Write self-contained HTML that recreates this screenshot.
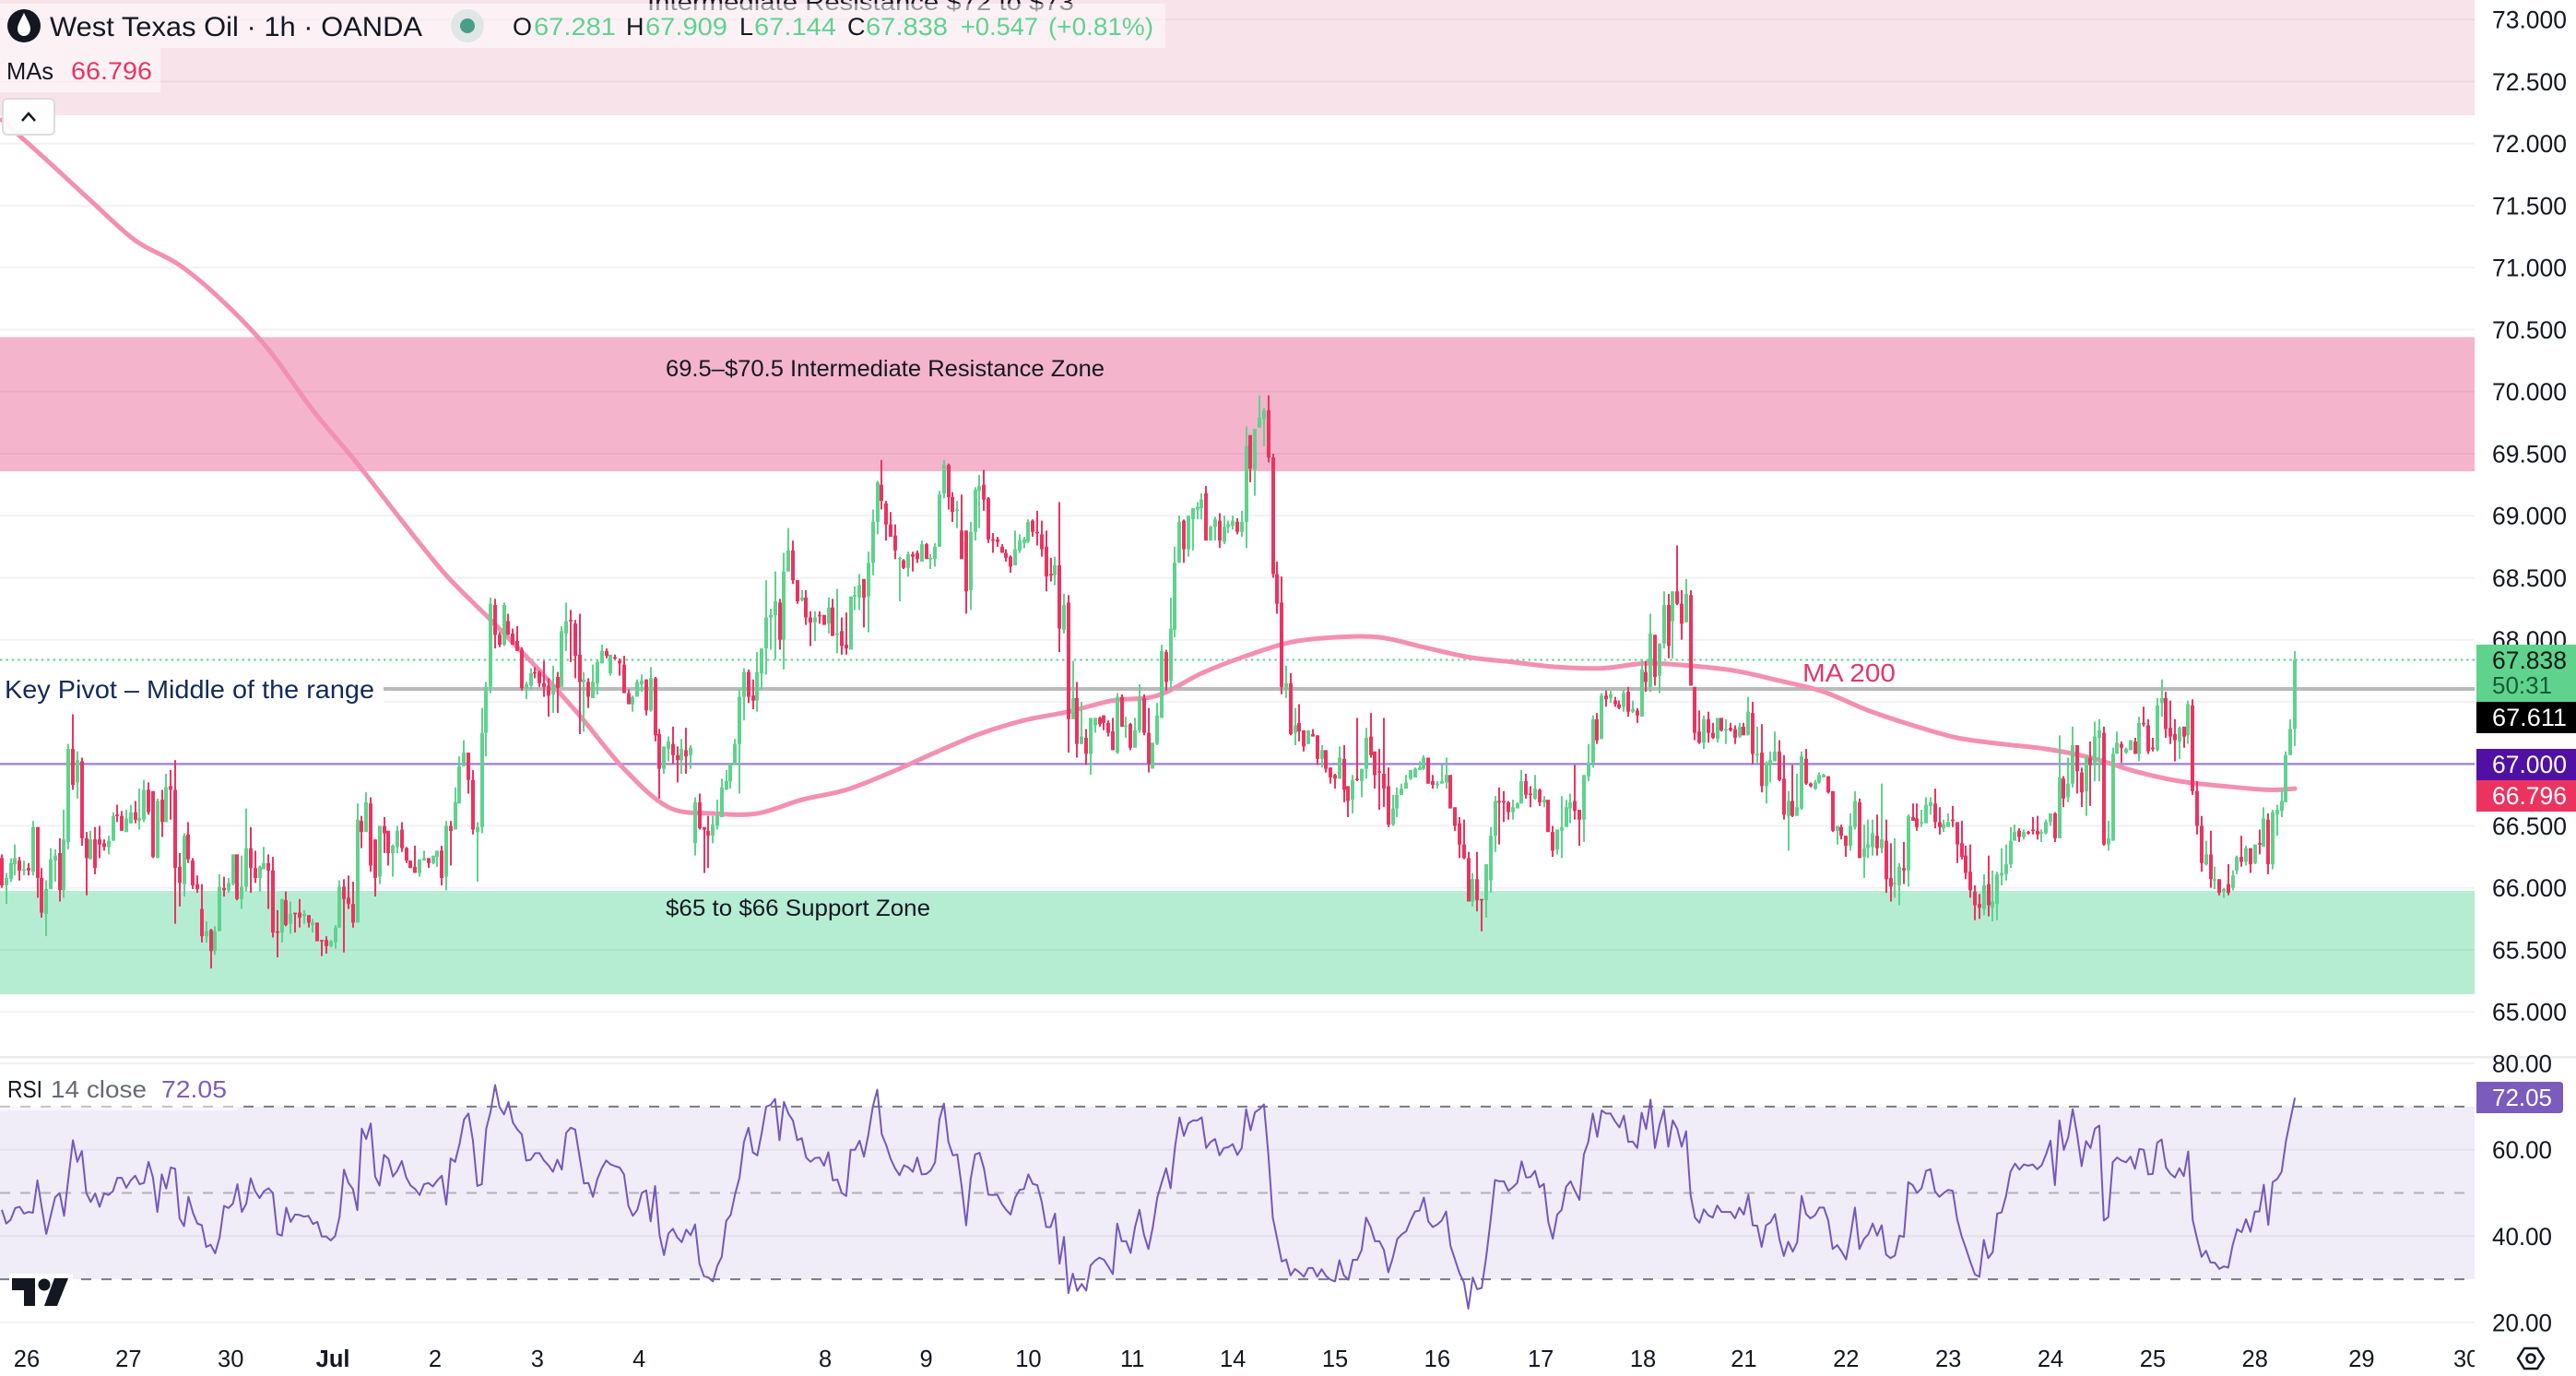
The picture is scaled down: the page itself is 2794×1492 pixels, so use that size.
<!DOCTYPE html>
<html lang="en">
<head>
<meta charset="utf-8">
<title>West Texas Oil 1h chart</title>
<style>
html,body{margin:0;padding:0;background:#fff;width:2794px;height:1492px;overflow:hidden}
svg{display:block}
text{font-family:"Liberation Sans",sans-serif;fill:#131722}
</style>
</head>
<body>
<svg id="chart" xmlns="http://www.w3.org/2000/svg" width="2794" height="1492" viewBox="0 0 2794 1492">
<defs>
<clipPath id="pane-clip"><rect x="0" y="0" width="2684" height="1492"/></clipPath>
<clipPath id="price-clip"><rect x="0" y="0" width="2684" height="1146"/></clipPath>
</defs>
<rect x="0" y="0" width="2794" height="1492" fill="#ffffff"/>
<g id="price-grid"></g>
<rect x="0" y="0" width="2684" height="125" fill="rgba(206,30,99,.125)"/>
<rect x="0" y="365.5" width="2684" height="145.5" fill="rgba(222,30,99,.335)"/>
<rect x="0" y="966" width="2684" height="112" fill="rgba(31,200,120,.33)"/>
<g id="levels" clip-path="url(#pane-clip)"></g>
<g id="ma-layer" clip-path="url(#price-clip)"></g>
<g id="candles" clip-path="url(#price-clip)"></g>

<text x="702" y="11" font-size="25" textLength="463" lengthAdjust="spacingAndGlyphs">Intermediate Resistance $72 to $73</text>
<text x="722" y="408" font-size="25" textLength="476" lengthAdjust="spacingAndGlyphs">69.5–$70.5 Intermediate Resistance Zone</text>
<text x="722" y="993" font-size="25" textLength="287" lengthAdjust="spacingAndGlyphs">$65 to $66 Support Zone</text>
<rect x="0" y="728" width="416" height="38" fill="#ffffff"/>
<text x="5" y="757" font-size="28" textLength="401" lengthAdjust="spacingAndGlyphs" style="fill:#132a5a">Key Pivot – Middle of the range</text>
<text x="1955" y="739" font-size="28" textLength="101" lengthAdjust="spacingAndGlyphs" style="fill:#e0386c">MA 200</text>

<rect x="0" y="4" width="1264" height="48" fill="rgba(255,255,255,.55)"/>
<rect x="0" y="52" width="174" height="48" fill="rgba(255,255,255,.55)"/>
<circle cx="26" cy="28" r="18" fill="#131722"/>
<path d="M26 14 C22 22 19 27 19 31 C19 36 22 39 26 39 C30 39 33 36 33 31 C33 27 30 22 26 14 Z" fill="#ffffff"/>
<text x="54" y="39" font-size="30" textLength="404" lengthAdjust="spacingAndGlyphs">West Texas Oil · 1h · OANDA</text>
<ellipse cx="507" cy="28" rx="18" ry="18" fill="#dfe6e6"/>
<ellipse cx="507" cy="28" rx="8" ry="8" fill="#4a9d88"/>
<g font-size="27">
<text x="556" y="38" font-size="27">O</text>
<text x="579" y="38" font-size="27" textLength="89" lengthAdjust="spacingAndGlyphs" style="fill:#5fd38d">67.281</text>
<text x="679" y="38" font-size="27">H</text>
<text x="700" y="38" font-size="27" textLength="89" lengthAdjust="spacingAndGlyphs" style="fill:#5fd38d">67.909</text>
<text x="802" y="38" font-size="27">L</text>
<text x="818" y="38" font-size="27" textLength="89" lengthAdjust="spacingAndGlyphs" style="fill:#5fd38d">67.144</text>
<text x="919" y="38" font-size="27">C</text>
<text x="939" y="38" font-size="27" textLength="89" lengthAdjust="spacingAndGlyphs" style="fill:#5fd38d">67.838</text>
<text x="1042" y="38" font-size="27" textLength="84" lengthAdjust="spacingAndGlyphs" style="fill:#5fd38d">+0.547</text>
<text x="1137" y="38" font-size="27" textLength="114" lengthAdjust="spacingAndGlyphs" style="fill:#5fd38d">(+0.81%)</text>
</g>
<text x="7" y="86" font-size="26" textLength="51" lengthAdjust="spacingAndGlyphs">MAs</text>
<text x="77" y="86" font-size="27" textLength="88" lengthAdjust="spacingAndGlyphs" style="fill:#ec3360">66.796</text>
<rect x="3" y="107" width="56" height="39" rx="5" fill="rgba(255,255,255,.92)" stroke="#dcdcdc" stroke-width="2"/>
<path d="M24 131 L31 123 L38 131" fill="none" stroke="#131722" stroke-width="2.5"/>

<rect x="0" y="1145" width="2794" height="2.5" fill="#ebebeb"/>
<g id="rsi-pane" clip-path="url(#pane-clip)"></g>
<rect x="0" y="1156" width="258" height="48" fill="rgba(255,255,255,.55)"/>
<text x="8" y="1190" font-size="26" textLength="38" lengthAdjust="spacingAndGlyphs">RSI</text>
<text x="55" y="1190" font-size="26" textLength="104" lengthAdjust="spacingAndGlyphs" style="fill:#666a75">14 close</text>
<text x="175" y="1190" font-size="26" textLength="71" lengthAdjust="spacingAndGlyphs" style="fill:#7e5bc0">72.05</text>
<rect x="10" y="1381" width="69" height="38" fill="#ffffff"/>
<g fill="#131722">
<path d="M13 1386 H38 V1416 H26 V1399 H13 Z"/>
<circle cx="48" cy="1393" r="6.5"/>
<path d="M59 1386 H74 L62 1416 H48 Z"/>
</g>

<g id="price-axis"></g>
<g>
<rect x="2686" y="699" width="108" height="62" fill="#5fd38d"/>
<text x="2703" y="725" font-size="26.5" textLength="81" lengthAdjust="spacingAndGlyphs" style="fill:#0b1a12">67.838</text>
<text x="2703" y="752" font-size="26" textLength="65" lengthAdjust="spacingAndGlyphs" style="fill:#165a36">50:31</text>
</g>
<g>
<rect x="2686" y="761" width="108" height="34" fill="#000000"/>
<text x="2703" y="787" font-size="26.5" textLength="81" lengthAdjust="spacingAndGlyphs" style="fill:#ffffff">67.611</text>
</g>
<g>
<rect x="2686" y="812" width="108" height="34" fill="#4f10a3"/>
<text x="2703" y="838" font-size="26.5" textLength="81" lengthAdjust="spacingAndGlyphs" style="fill:#ffffff">67.000</text>
</g>
<g>
<rect x="2686" y="846" width="108" height="34" fill="#ec3360"/>
<text x="2703" y="872" font-size="26.5" textLength="81" lengthAdjust="spacingAndGlyphs" style="fill:#ffffff">66.796</text>
</g>
<g id="rsi-axis"></g>
<g>
<path d="M2686 1173 H2776 Q2780 1173 2780 1177 V1203 Q2780 1207 2776 1207 H2686 Z" fill="#7b5bbb"/>
<text x="2703" y="1199" font-size="26" textLength="65" lengthAdjust="spacingAndGlyphs" style="fill:#ffffff">72.05</text>
</g>
<g id="time-axis" clip-path="url(#pane-clip)"></g>
<g>
<polygon points="2731,1473 2738,1462 2752,1462 2759,1473 2752,1484 2738,1484" fill="none" stroke="#131722" stroke-width="2.5"/>
<circle cx="2745" cy="1473" r="4.5" fill="none" stroke="#131722" stroke-width="2.5"/>
</g>
</svg>
<script>
const opens=[66.24,66.02,66.07,66.19,66.22,66.14,66.16,66.13,66.49,66.08,
65.79,65.99,66.22,66.28,65.98,66.37,67.12,66.85,67.02,66.4,
66.23,66.39,66.39,66.36,66.33,66.38,66.59,66.58,66.45,66.52,
66.61,66.54,66.55,66.79,66.78,66.24,66.71,66.53,66.82,66.79,
66.17,66.03,66.43,66.22,66.03,65.83,65.61,65.66,65.49,65.65,
66.0,65.98,66.03,66.27,65.91,66.01,66.32,66.16,66.08,66.15,
66.2,66.14,65.65,65.64,65.9,65.71,65.8,65.8,65.77,65.78,
65.7,65.72,65.58,65.58,65.53,65.56,65.68,66.01,65.92,65.87,
65.72,66.54,66.45,66.68,66.39,66.09,66.5,66.46,66.28,66.33,
66.47,66.32,66.22,66.17,66.12,66.22,66.24,66.2,66.25,66.3,
66.09,66.5,66.47,66.68,66.98,67.09,66.87,66.45,66.49,67.25,
67.62,68.28,68.04,67.96,68.15,68.05,67.99,67.92,67.61,67.63,
67.74,67.74,67.65,67.63,67.56,67.7,67.62,68.05,68.16,68.13,
67.88,67.66,67.66,67.53,67.65,67.81,67.91,67.73,67.86,67.83,
67.8,67.57,67.48,67.54,67.64,67.68,67.43,67.69,67.24,66.96,
67.12,67.16,67.07,67.03,67.11,67.07,66.36,66.69,66.49,66.46,
66.42,66.5,66.57,66.79,66.86,66.99,67.16,67.54,67.74,67.55,
67.51,67.73,67.93,68.18,68.2,68.3,68.0,68.55,68.72,68.48,
68.32,68.34,68.18,68.14,68.2,68.2,68.13,68.26,68.04,68.07,
67.96,67.92,68.35,68.34,68.49,68.35,68.62,68.95,69.25,69.1,
68.93,68.84,68.65,68.64,68.58,68.69,68.7,68.63,68.77,68.65,
68.65,68.75,69.18,69.41,69.15,69.04,68.88,68.88,68.4,68.87,
69.2,69.25,69.14,68.81,68.81,68.75,68.7,68.67,68.6,68.72,
68.78,68.79,68.96,68.87,68.85,68.75,68.53,68.52,68.6,68.08,
68.3,67.36,67.53,67.16,67.21,67.08,67.31,67.37,67.39,67.33,
67.26,67.09,67.54,67.3,67.32,67.13,67.27,67.53,67.25,66.96,
67.16,67.37,67.9,67.67,68.08,68.62,68.96,68.73,68.97,69.05,
69.06,69.18,68.8,68.91,68.96,68.79,68.91,68.92,68.95,68.87,
68.95,69.65,69.37,69.71,69.78,69.85,69.47,68.53,68.3,67.6,
67.65,67.25,67.33,67.27,67.16,67.24,67.23,67.04,67.11,66.97,
66.91,66.88,67.04,66.82,66.71,66.88,66.86,66.96,67.22,67.1,
66.94,66.92,66.82,66.51,66.64,66.75,66.8,66.88,66.89,66.95,
66.96,67.05,66.86,66.83,66.84,66.85,66.91,66.65,66.52,66.35,
66.24,65.89,66.07,65.91,65.9,66.06,66.42,66.7,66.7,66.69,
66.61,66.64,66.68,66.86,66.76,66.72,66.79,66.69,66.71,66.45,
66.31,66.46,66.49,66.64,66.7,66.63,66.55,66.9,67.01,67.36,
67.2,67.55,67.53,67.51,67.48,67.46,67.58,67.42,67.43,67.38,
67.74,67.62,68.04,67.71,67.97,68.28,68.15,68.39,68.29,68.14,
68.36,67.62,67.26,67.17,67.36,67.25,67.2,67.37,67.27,67.29,
67.28,67.22,67.3,67.23,67.41,67.07,67.09,66.82,67.0,67.02,
67.1,66.88,66.58,66.7,66.58,66.64,67.04,66.84,66.8,66.85,
66.89,66.9,66.78,66.46,66.49,66.42,66.34,66.49,66.69,66.25,
66.32,66.33,66.42,66.32,66.38,66.08,66.03,66.02,66.16,66.14,
66.57,66.56,66.52,66.52,66.66,66.68,66.53,66.48,66.49,66.55,
66.53,66.36,66.26,66.13,65.97,65.87,65.83,66.03,65.84,65.87,
66.1,66.11,66.19,66.38,66.46,66.41,66.45,66.47,66.46,66.44,
66.44,66.53,66.6,66.4,66.88,66.73,66.84,67.15,66.93,66.78,
67.05,67.0,67.21,67.25,66.35,66.38,67.08,67.16,67.09,67.11,
67.18,67.08,67.33,67.31,67.13,67.11,67.49,67.53,67.29,67.24,
67.18,67.3,67.23,67.47,66.78,66.5,66.19,66.27,66.06,66.07,
65.97,66.03,66.0,66.14,66.25,66.21,66.32,66.2,66.36,66.33,
66.55,66.19,66.59,66.62,66.69,67.07,67.281];
const closes=[66.02,66.08,66.2,66.24,66.14,66.15,66.14,66.49,66.08,65.8,
65.99,66.23,66.26,65.98,66.39,67.12,66.83,67.03,66.4,66.24,
66.39,66.16,66.35,66.33,66.38,66.58,66.58,66.46,66.56,66.61,
66.55,66.56,66.79,66.61,66.25,66.7,66.53,66.81,66.79,66.16,
66.04,66.42,66.23,66.02,65.99,65.61,65.65,65.49,65.65,66.01,
65.98,66.04,66.27,65.91,66.01,66.32,66.16,66.08,66.17,66.2,
66.14,65.64,65.64,65.91,65.7,65.79,65.79,65.76,65.79,65.72,
65.72,65.57,65.57,65.53,65.57,65.68,66.01,65.91,65.87,65.72,
66.55,66.45,66.69,66.18,66.08,66.5,66.44,66.28,66.34,66.46,
66.32,66.22,66.16,66.12,66.23,66.24,66.2,66.26,66.3,66.08,
66.5,66.46,66.69,66.98,67.09,66.87,66.47,66.49,67.25,67.62,
68.29,68.04,67.96,68.28,68.04,67.96,67.91,67.61,67.64,67.73,
67.73,67.65,67.62,67.55,67.63,67.61,68.07,68.15,68.15,67.87,
67.66,67.68,67.54,67.66,67.82,67.91,67.87,67.88,67.85,67.81,
67.57,67.48,67.54,67.66,67.67,67.43,67.69,67.23,66.96,67.14,
67.18,67.07,67.03,67.12,67.06,67.13,66.69,66.48,66.47,66.42,
66.51,66.58,66.81,66.86,67.0,67.16,67.54,67.74,67.54,67.51,
67.74,67.93,68.18,68.2,68.31,68.0,68.55,68.72,68.48,68.31,
68.34,68.18,68.14,68.18,68.19,68.12,68.26,68.03,68.05,67.95,
67.93,68.35,68.36,68.44,68.34,68.62,68.95,69.27,69.12,68.93,
68.83,68.72,68.66,68.58,68.69,68.67,68.65,68.77,68.65,68.66,
68.75,69.17,69.41,69.15,69.03,69.05,68.65,68.39,68.87,69.21,
69.24,69.13,68.81,68.8,68.79,68.7,68.66,68.59,68.73,68.8,
68.81,68.95,68.87,68.86,68.73,68.51,68.52,68.6,68.09,68.28,
67.36,67.53,67.16,67.22,67.08,67.37,67.37,67.32,67.33,67.25,
67.11,67.54,67.3,67.31,67.13,67.27,67.52,67.25,67.0,67.17,
67.39,67.91,67.66,68.09,68.62,68.95,68.73,69.0,69.06,69.07,
69.13,68.8,68.91,68.97,68.8,68.91,68.93,68.96,68.87,68.95,
69.56,69.38,69.7,69.79,69.85,69.47,68.53,68.29,67.62,67.65,
67.24,67.31,67.26,67.14,67.27,67.22,67.04,67.11,66.96,66.89,
66.88,67.05,66.79,66.7,66.87,66.87,66.96,67.21,67.07,66.91,
66.93,66.8,66.51,66.64,66.75,66.8,66.85,66.95,66.96,66.97,
67.05,66.84,66.83,66.84,66.86,66.91,66.64,66.5,66.35,66.24,
65.89,66.07,65.9,65.9,66.19,66.42,66.7,66.69,66.69,66.61,
66.65,66.68,66.86,66.75,66.75,66.8,66.69,66.71,66.45,66.3,
66.47,66.49,66.65,66.69,66.62,66.55,66.91,67.01,67.36,67.19,
67.55,67.52,67.56,67.48,67.45,67.57,67.42,67.44,67.39,67.76,
67.66,68.05,67.7,67.97,68.28,67.95,68.39,68.29,68.13,68.37,
67.63,67.25,67.17,67.36,67.25,67.21,67.37,67.27,67.28,67.27,
67.21,67.3,67.23,67.42,67.08,67.08,66.82,67.01,67.03,67.1,
66.87,66.59,66.7,66.58,66.65,67.06,66.84,66.82,66.85,66.91,
66.91,66.77,66.46,66.5,66.42,66.34,66.5,66.7,66.24,66.32,
66.35,66.44,66.32,66.39,66.07,66.01,66.04,66.17,66.14,66.58,
66.54,66.49,66.53,66.67,66.69,66.53,66.49,66.51,66.53,66.54,
66.35,66.25,66.12,65.98,65.86,65.84,66.02,65.86,65.89,66.11,
66.12,66.19,66.38,66.45,66.41,66.45,66.44,66.46,66.43,66.45,
66.53,66.6,66.4,66.89,66.72,66.84,67.15,66.94,66.77,67.05,
66.99,67.22,67.27,66.35,66.4,67.08,67.17,67.13,67.12,67.19,
67.08,67.33,67.32,67.1,67.12,67.47,67.53,67.28,67.22,67.19,
67.29,67.22,67.48,66.78,66.5,66.2,66.27,66.07,66.07,65.96,
65.99,65.96,66.1,66.25,66.21,66.32,66.19,66.35,66.35,66.56,
66.19,66.61,66.63,66.7,67.07,67.28,67.838];
const highs=[66.27,66.12,66.24,66.35,66.25,66.22,66.2,66.54,66.49,66.16,
66.06,66.32,66.31,66.4,66.63,67.16,67.4,67.1,67.05,66.45,
66.46,66.49,66.5,66.39,66.42,66.61,66.67,66.62,66.63,66.67,
66.7,66.8,66.87,66.85,66.78,66.72,66.79,66.92,66.95,67.03,
66.28,66.44,66.53,66.24,66.1,66.03,65.73,65.67,65.69,66.11,
66.09,66.08,66.27,66.27,66.26,66.64,66.49,66.3,66.18,66.33,
66.27,66.25,65.82,65.91,65.97,65.89,65.8,65.91,65.82,65.78,
65.75,65.72,65.58,65.61,65.58,65.7,66.06,66.07,66.1,66.05,
66.68,66.58,66.77,66.73,66.39,66.5,66.57,66.46,66.35,66.5,
66.53,66.33,66.22,66.34,66.23,66.3,66.24,66.26,66.3,66.34,
66.54,66.54,66.81,67.06,67.19,67.09,66.95,66.53,67.45,67.66,
68.34,68.33,68.06,68.3,68.21,68.09,68.11,67.94,67.66,67.77,
67.78,67.75,67.83,67.69,67.79,67.74,68.11,68.3,68.24,68.16,
68.21,67.74,67.69,67.8,67.84,67.96,67.93,67.88,67.88,67.85,
67.87,67.6,67.55,67.68,67.72,67.68,67.78,67.7,67.28,67.14,
67.22,67.3,67.14,67.2,67.29,67.15,66.73,66.76,66.49,66.58,
66.58,66.71,66.88,66.95,67.0,67.2,67.6,67.77,67.76,67.68,
67.9,67.93,68.48,68.25,68.55,68.33,68.7,68.9,68.8,68.48,
68.4,68.4,68.23,68.23,68.23,68.2,68.34,68.33,68.41,68.18,
68.22,68.35,68.43,68.53,68.49,68.71,69.05,69.28,69.45,69.12,
69.03,68.93,68.67,68.65,68.71,68.71,68.72,68.8,68.78,68.69,
68.78,69.2,69.45,69.42,69.19,69.12,69.17,68.88,68.95,69.23,
69.33,69.37,69.15,68.86,68.83,68.77,68.73,68.68,68.88,68.85,
68.83,68.97,68.97,69.04,68.96,68.88,68.66,68.67,69.11,68.37,
68.36,67.83,67.66,67.5,67.28,67.37,67.37,67.38,67.39,67.35,
67.37,67.57,67.56,67.38,67.33,67.37,67.64,67.56,67.45,67.17,
67.49,67.96,67.92,68.34,68.75,69.0,68.97,69.0,69.06,69.11,
69.18,69.24,68.92,68.99,69.02,69.0,68.96,69.0,68.98,69.04,
69.72,69.65,69.7,69.97,69.87,69.97,69.5,68.63,68.51,67.79,
67.73,67.45,67.48,67.27,67.27,67.28,67.23,67.15,67.11,66.97,
66.92,67.14,67.15,66.82,66.91,67.37,66.96,67.29,67.41,67.1,
67.12,67.37,66.97,66.75,66.81,66.84,66.91,66.95,66.97,67.02,
67.07,67.05,66.91,66.86,66.99,67.05,66.91,66.65,66.57,66.55,
66.29,66.12,66.29,65.91,66.19,66.49,66.74,66.81,66.78,66.7,
66.71,66.69,66.95,66.92,66.82,66.91,66.8,66.74,66.71,66.5,
66.47,66.74,66.71,66.76,66.99,66.63,66.91,67.16,67.39,67.41,
67.57,67.59,67.59,67.54,67.51,67.6,67.62,67.51,67.45,67.84,
67.83,68.21,68.04,67.97,68.39,68.37,68.39,68.76,68.4,68.49,
68.4,67.62,67.43,67.39,67.42,67.33,67.37,67.37,67.36,67.33,
67.31,67.33,67.33,67.54,67.5,67.3,67.32,67.02,67.1,67.26,
67.19,67.07,66.78,66.99,66.92,67.1,67.12,66.85,66.87,66.93,
66.92,66.9,66.78,66.5,66.51,66.42,66.6,66.78,66.72,66.51,
66.55,66.55,66.59,66.84,66.55,66.36,66.4,66.2,66.37,66.59,
66.68,66.68,66.63,66.73,66.73,66.8,66.65,66.55,66.6,66.66,
66.53,66.54,66.34,66.35,66.02,65.95,66.11,66.26,66.14,66.13,
66.32,66.35,66.49,66.51,66.48,66.47,66.46,66.57,66.58,66.47,
66.55,66.6,66.61,67.23,66.9,67.05,67.3,67.15,66.97,67.07,
67.18,67.34,67.36,67.3,66.54,67.13,67.26,67.18,67.13,67.19,
67.21,67.38,67.46,67.36,67.21,67.53,67.68,67.58,67.51,67.36,
67.3,67.3,67.51,67.52,66.86,66.58,66.38,66.46,66.17,66.07,
66.0,66.19,66.14,66.26,66.42,66.34,66.32,66.35,66.47,66.65,
66.6,66.63,66.67,66.79,67.1,67.36,67.909];
const lows=[66.0,65.87,66.05,66.1,66.06,66.1,66.1,66.1,65.92,65.76,
65.61,65.99,66.05,65.89,65.92,66.31,66.79,66.72,66.34,65.94,
66.23,66.11,66.24,66.3,66.27,66.38,66.53,66.46,66.45,66.52,
66.52,66.47,66.53,66.59,66.24,66.24,66.41,66.53,66.55,65.71,
65.85,65.93,66.2,65.99,65.96,65.56,65.56,65.35,65.46,65.65,
65.93,65.96,66.02,65.9,65.83,65.97,65.96,66.04,65.97,66.15,
65.83,65.6,65.44,65.56,65.69,65.63,65.64,65.68,65.71,65.68,
65.64,65.57,65.45,65.47,65.52,65.51,65.68,65.48,65.83,65.68,
65.72,66.32,66.45,66.13,65.93,66.03,66.28,66.18,66.09,66.28,
66.29,66.2,66.16,66.12,66.09,66.22,66.16,66.19,66.17,66.02,
65.98,66.18,66.47,66.68,66.98,66.76,66.43,66.05,66.44,67.06,
67.57,67.93,67.94,67.95,68.04,67.96,67.91,67.59,67.52,67.6,
67.69,67.62,67.54,67.38,67.41,67.41,67.62,67.91,67.82,67.69,
67.24,67.26,67.45,67.53,67.56,67.81,67.85,67.71,67.84,67.71,
67.57,67.48,67.42,67.54,67.58,67.39,67.42,67.18,66.72,66.92,
67.02,67.0,66.85,66.92,66.92,66.96,66.26,66.47,66.12,66.16,
66.36,66.47,66.57,66.79,66.8,66.99,66.76,67.35,67.49,67.44,
67.42,67.6,67.72,67.92,67.84,67.92,67.76,68.55,68.45,68.29,
68.31,68.12,67.95,67.99,68.13,68.12,68.05,68.03,67.89,67.88,
67.88,67.92,68.24,68.24,68.1,68.06,68.52,68.85,69.05,68.8,
68.83,68.65,68.31,68.57,68.51,68.55,68.62,68.63,68.65,68.57,
68.59,68.75,69.14,69.05,68.95,68.9,68.65,68.21,68.24,68.8,
68.9,69.04,68.78,68.7,68.75,68.7,68.63,68.54,68.6,68.7,
68.74,68.78,68.83,68.76,68.67,68.39,68.47,68.44,67.9,68.05,
67.09,67.36,67.05,67.16,66.99,66.91,67.25,67.3,67.27,67.22,
67.11,67.08,67.3,67.21,67.11,67.13,67.25,67.23,66.93,66.96,
67.15,67.37,67.59,67.59,68.02,68.62,68.62,68.67,68.72,68.97,
68.97,68.8,68.8,68.8,68.74,68.77,68.86,68.89,68.85,68.83,
68.74,69.27,69.16,69.71,69.56,69.43,68.5,68.21,67.56,67.53,
67.23,67.15,67.18,67.1,67.16,67.22,66.99,66.97,66.93,66.84,
66.8,66.88,66.69,66.57,66.6,66.86,66.73,66.88,67.05,66.8,
66.63,66.65,66.49,66.5,66.57,66.75,66.8,66.87,66.89,66.95,
66.95,66.84,66.8,66.8,66.84,66.8,66.64,66.46,66.24,66.23,
65.89,65.85,65.81,65.65,65.76,65.96,66.29,66.35,66.53,66.55,
66.55,66.64,66.68,66.72,66.65,66.71,66.66,66.65,66.45,66.25,
66.27,66.24,66.49,66.52,66.55,66.34,66.37,66.86,66.97,67.16,
67.2,67.46,67.49,67.46,67.44,67.42,67.38,67.41,67.33,67.38,
67.58,67.58,67.63,67.57,67.93,67.85,67.85,68.28,68.0,68.14,
67.63,67.19,67.16,67.12,67.17,67.2,67.17,67.26,67.16,67.26,
67.16,67.21,67.23,67.23,67.0,67.0,66.77,66.68,66.85,67.02,
66.86,66.55,66.3,66.57,66.58,66.63,66.83,66.81,66.79,66.84,
66.89,66.76,66.45,66.35,66.39,66.25,66.3,66.47,66.24,66.08,
66.24,66.26,66.26,66.28,65.96,65.89,65.92,65.86,66.03,66.01,
66.54,66.46,66.49,66.52,66.59,66.48,66.43,66.45,66.49,66.49,
66.2,66.23,66.07,65.92,65.74,65.75,65.78,65.77,65.73,65.74,
66.02,66.06,66.16,66.38,66.37,66.39,66.43,66.43,66.39,66.37,
66.43,66.5,66.37,66.4,66.65,66.69,66.81,66.76,66.65,66.58,
66.66,66.86,66.86,66.34,66.3,66.38,67.08,67.01,67.08,67.11,
67.08,67.02,67.3,67.08,67.1,67.1,67.38,67.21,67.16,67.02,
67.04,67.13,67.16,66.75,66.43,66.13,66.18,66.0,65.99,65.94,
65.92,65.94,65.98,66.11,66.17,66.18,66.12,66.19,66.27,66.33,
66.11,66.15,66.42,66.57,66.69,67.07,67.144];
const maBars=[0,10,20,30,40,50,60,70,80,90,100,110,120,130,140,150,160,170,180,190,200,210,220,230,240,250,260,270,280,290,300,310,320,330,340,350,360,370,380,390,400,410,420,430,440,450,460,470,480,490,500,510,516];
const maValues=[72.19,71.87,71.54,71.22,71.02,70.72,70.34,69.85,69.42,68.96,
68.52,68.16,67.79,67.39,66.96,66.65,66.6,66.6,66.71,66.79,
66.93,67.09,67.24,67.35,67.42,67.51,67.55,67.73,67.87,67.98,
68.02,68.02,67.94,67.86,67.82,67.78,67.77,67.81,67.79,67.75,
67.67,67.58,67.43,67.31,67.21,67.16,67.12,67.05,66.94,66.86,
66.82,66.79,66.8];
const rsiValues=[46.1,42.9,43.8,46.5,46.8,45.2,45.6,45.4,52.9,46.5,
40.5,44.7,49,50,44.7,53.6,62.2,57.2,59.7,50,
47.9,49.9,46.8,49.9,49.5,50.4,53.5,53.5,51.2,52.9,
54,52,52.3,57.2,53.6,45.6,54.3,51,55.9,55.6,
44.1,42.3,49.1,45.4,42.9,42.5,37.5,38,36,39.7,
47,46.5,47.5,52,45.6,47.5,53.4,50.4,48.8,50.4,
51.1,50,40.5,40.1,46.6,43.3,45,44.9,44.5,44.7,
42.8,43.3,39.9,39.9,39,40,44.5,55.4,52.3,50.9,
46,64.9,62.5,66.1,53.8,51.7,58.8,57.9,53.8,55.2,
57.4,53.6,51.7,50.9,49.5,52,52.3,51.5,52.9,54,
47.3,58,57.2,61.4,67,68.4,62.2,51.6,52,64.9,
68.9,75,69.9,68.2,71.1,66.3,64.7,63.6,57.5,57.7,
59.2,59.2,57.5,56.4,54.9,57.7,55.4,63.9,65.1,64.7,
58.4,52.2,52.3,49.1,53.2,55.7,57.5,56.6,56.2,55.9,
54.3,47,44.7,46.1,50,50.6,43.4,51.6,40.2,35.6,
40.6,41.7,39.7,38.6,41.5,40.2,42.7,33.6,30.7,30.4,
29.5,33.1,35.2,43.5,44.9,49.7,53.6,61.8,65.1,59.4,
58.7,63.9,70,70.4,71.8,62.2,71.1,68.4,66.8,62.2,
62.7,58.2,57.2,58.1,58.2,56.3,59.4,
52.9,53.1,50,49.3,60,60,62.1,58.4,63.6,70,
73.9,63.6,61.1,57.9,55.7,54.1,56.4,55.9,54.9,58.2,
54.3,54.4,55.2,57.1,67.1,70.7,61.8,58.7,58.9,51.4,42.5,
53.2,58.9,59.3,55.7,49.6,49.5,49.6,47.5,46.1,45,
48.9,50.7,50.9,54.3,52.1,51.8,47.9,42.1,42.1,45.2,
33.6,39.8,26.8,31.3,27.3,28.9,27.4,33.2,34.3,35,
34.5,32.9,31.2,42.9,38.8,38.8,36.1,42.1,46.1,40.4,
37,42.1,48.9,52.4,55.7,51.1,60.7,67.5,63.2,66.1,66.8,66.8,67.5,
60.4,61.8,62.5,58.7,60.4,60.6,61.3,58.8,60.4,69.4,
64.5,68.7,69.4,70.5,58.9,44.3,39.3,34.1,34.6,30.9,
32.4,31.6,30.6,32.6,32.6,30.6,32.3,30.7,29.9,29.5,
34.4,30.9,29.9,34.5,34.5,36.8,44.3,42.1,38.8,38.8,
36.8,31.6,35,39.3,40.4,41.1,43.6,45.7,45.9,48.9,
43.4,42.1,42.7,43.6,45.7,37.7,34.6,31.4,29.3,23.2,
30.4,27.7,28,35,43.6,53,52.7,52.7,50.5,51.3,
52.3,57.3,53.6,53.7,55.1,51.3,52.1,43.2,39.4,45,
46.1,51.4,52.7,50.4,48.4,58.9,61.8,68.4,63,69.1,
68.4,68.4,66.6,65.2,67.9,61.8,61.9,60.4,68.6,64.8,
71.6,60.4,65.7,69.3,60.7,66.8,64.9,60.7,64.3,49.6,
44.3,43.1,46.2,44.8,44.3,47.1,45.6,45.6,45.6,44.1,
46.6,45,49.6,42.5,42.4,37.5,42.5,43.2,45.1,39.3,
35.4,38.7,36.4,38.6,49.3,45.1,44.1,44.8,46.6,46.6,
43.6,37,37.9,36.4,34.6,40.1,46.6,37,39.3,40.4,
42.9,40.1,42.5,35.7,34.9,35.5,40.1,39.8,52.5,51.8,
50,51.1,55.1,55.5,50.4,49.1,50,50.7,50.5,43.9,
40,37.1,33.9,31.1,30.6,39.1,34.9,36.3,45.2,45.5,
49.3,54.9,56.8,55.4,56.6,56.3,56.6,55.5,56.4,58.9,
62.1,51.8,66.8,60,62.9,69.4,63.6,56.2,62,60.4,
64.9,65.6,43.6,44.4,57.1,58.2,57.5,57.1,58.4,55.6,
60.2,60,54.3,54.4,61.6,62.4,55.9,54.4,53.6,55.7,
53.9,59.6,43.7,39.3,35.2,36.6,33.9,33.8,32.4,33,
32.7,37.9,41.6,40.9,43.9,41,45.7,45.7,51.9,42.6,
52.5,53.2,54.9,62.1,67.1,72.05];
const priceTicks=['65.000','65.500','66.000','66.500','67.000','67.500','68.000','68.500','69.000','69.500','70.000','70.500','71.000','71.500','72.000','72.500','73.000'];
const rsiGridTicks=['80.00','60.00','40.00','20.00'];
const dateLabels=['26','27','30','Jul','2','3','4','8','9','10','11','14','15','16','17','18','21','22','23','24','25','28','29','30'];
const dateBars=[5.6,28.5,51.5,74.5,97.5,120.5,143.4,185.3,208,231,254.4,277,300,323,346.3,369.3,392,415,438,461,484,507,531,554.6];
const pivotLevel=67.611;
const horizontalLevel=67;
const rsiUpper=70;
const rsiMiddle=50;
const rsiLower=30;

const SVGNS='http://www.w3.org/2000/svg';
function mk(tag){return document.createElementNS(SVGNS,tag);}
function xScale(i){return 2+4.82*i;}
function yPrice(p){return 693.7+(68-p)*134.5;}
function yRsi(v){return 1246.7+(60-v)*4.68;}
const PANE_RIGHT=2684;

const gridG=document.getElementById('price-grid');
const priceAxisG=document.getElementById('price-axis');
priceTicks.forEach(function(t){
  const y=yPrice(parseFloat(t));
  const line=mk('rect');
  
  
  line.setAttribute('x',0);
  line.setAttribute('y',y-1);
  line.setAttribute('width',PANE_RIGHT);
  line.setAttribute('height',2);
  line.setAttribute('fill','#f2f2f3');
  gridG.appendChild(line);
  const label=mk('text');
  
  
  label.setAttribute('x',2703);
  label.setAttribute('y',y+9.5);
  label.setAttribute('font-size','26.5');
  label.setAttribute('textLength','81');
  label.setAttribute('lengthAdjust','spacingAndGlyphs');
  label.textContent=t;
  priceAxisG.appendChild(label);
});

const levels=document.getElementById('levels');
const pivot=mk('rect');


pivot.setAttribute('x',416);
pivot.setAttribute('y',yPrice(pivotLevel)-1);
pivot.setAttribute('width',PANE_RIGHT-416);
pivot.setAttribute('height',4);
pivot.setAttribute('fill','#b9b9b9');
levels.appendChild(pivot);
const purple=mk('rect');


purple.setAttribute('x',0);
purple.setAttribute('y',yPrice(horizontalLevel)-1);
purple.setAttribute('width',PANE_RIGHT);
purple.setAttribute('height',2.4);
purple.setAttribute('fill','#a385d2');
levels.appendChild(purple);
const lastLine=mk('line');


lastLine.setAttribute('x1',0);
lastLine.setAttribute('x2',PANE_RIGHT);
lastLine.setAttribute('y1',yPrice(closes[closes.length-1]));
lastLine.setAttribute('y2',yPrice(closes[closes.length-1]));
lastLine.setAttribute('stroke','#5fd38d');
lastLine.setAttribute('stroke-width','2');
lastLine.setAttribute('stroke-dasharray','2.5 3.9');
levels.appendChild(lastLine);

function smoothPath(pts){
  let d='M'+pts[0][0].toFixed(1)+' '+pts[0][1].toFixed(1);
  for(let i=0;i<pts.length-1;i++){
    const p0=pts[Math.max(0,i-1)],p1=pts[i],p2=pts[i+1],p3=pts[Math.min(pts.length-1,i+2)];
    const c1x=p1[0]+(p2[0]-p0[0])/6,c1y=p1[1]+(p2[1]-p0[1])/6;
    const c2x=p2[0]-(p3[0]-p1[0])/6,c2y=p2[1]-(p3[1]-p1[1])/6;
    d+=' C'+c1x.toFixed(1)+' '+c1y.toFixed(1)+' '+c2x.toFixed(1)+' '+c2y.toFixed(1)+' '+p2[0].toFixed(1)+' '+p2[1].toFixed(1);
  }
  return d;
}
const maLine=mk('path');


maLine.setAttribute('d',smoothPath(maValues.map(function(v,i){return [xScale(maBars[i]),yPrice(v)];})));
maLine.setAttribute('fill','none');
maLine.setAttribute('stroke','#f390b2');
maLine.setAttribute('stroke-width','5');
maLine.setAttribute('stroke-linejoin','round');
maLine.setAttribute('stroke-linecap','round');
document.getElementById('ma-layer').appendChild(maLine);

const candleG=document.getElementById('candles');
closes.forEach(function(c,i){
  const o=opens[i];
  const color=c>=o?'#5fd38d':'#ec3360';
  const cx=Math.round(xScale(i));
  const g=mk('g');
  
  
  g.setAttribute('fill',color);
  const wick=mk('rect');
  
  
  wick.setAttribute('x',cx-1);
  wick.setAttribute('y',yPrice(highs[i]).toFixed(1));
  wick.setAttribute('width',2);
  wick.setAttribute('height',Math.max(1,yPrice(lows[i])-yPrice(highs[i])).toFixed(1));
  g.appendChild(wick);
  const body=mk('rect');
  
  
  body.setAttribute('x',cx-2);
  body.setAttribute('y',yPrice(Math.max(o,c)).toFixed(1));
  body.setAttribute('width',4);
  body.setAttribute('height',Math.max(1.6,Math.abs(yPrice(o)-yPrice(c))).toFixed(1));
  g.appendChild(body);
  candleG.appendChild(g);
});

const rsiG=document.getElementById('rsi-pane');
const band=mk('rect');


band.setAttribute('x',0);
band.setAttribute('y',yRsi(rsiUpper));
band.setAttribute('width',PANE_RIGHT);
band.setAttribute('height',yRsi(rsiLower)-yRsi(rsiUpper));
band.setAttribute('fill','#f0edf8');
rsiG.appendChild(band);
const rsiAxisG=document.getElementById('rsi-axis');
rsiGridTicks.forEach(function(t){
  const y=yRsi(parseFloat(t));
  const line=mk('rect');
  
  
  line.setAttribute('x',0);
  line.setAttribute('y',y-1);
  line.setAttribute('width',PANE_RIGHT);
  line.setAttribute('height',2);
  line.setAttribute('fill','rgba(120,110,150,.1)');
  rsiG.appendChild(line);
  const label=mk('text');
  
  
  label.setAttribute('x',2703);
  label.setAttribute('y',y+9.5);
  label.setAttribute('font-size','26.5');
  label.setAttribute('textLength','65');
  label.setAttribute('lengthAdjust','spacingAndGlyphs');
  label.textContent=t;
  rsiAxisG.appendChild(label);
});
[[rsiUpper,'#787b86','rsi-upper-band-line'],[rsiMiddle,'#b2b0ba','rsi-middle-band-line'],[rsiLower,'#787b86','rsi-lower-band-line']].forEach(function(d){
  const line=mk('line');
  
  
  line.setAttribute('x1',0);
  line.setAttribute('x2',PANE_RIGHT);
  line.setAttribute('y1',yRsi(d[0]));
  line.setAttribute('y2',yRsi(d[0]));
  line.setAttribute('stroke',d[1]);
  line.setAttribute('stroke-width','2');
  line.setAttribute('stroke-dasharray','11 11');
  rsiG.appendChild(line);
});
const rsiLine=mk('polyline');


rsiLine.setAttribute('points',rsiValues.map(function(v,i){return xScale(i).toFixed(1)+','+yRsi(v).toFixed(1);}).join(' '));
rsiLine.setAttribute('fill','none');
rsiLine.setAttribute('stroke','#7557bd');
rsiLine.setAttribute('stroke-width','2');
rsiLine.setAttribute('stroke-linejoin','round');
rsiG.appendChild(rsiLine);

const timeG=document.getElementById('time-axis');
dateLabels.forEach(function(t,i){
  const label=mk('text');
  
  
  label.setAttribute('x',xScale(dateBars[i]));
  label.setAttribute('y',1482);
  label.setAttribute('text-anchor','middle');
  label.setAttribute('font-size','25.5');
  if(t==='Jul'){label.setAttribute('font-weight','bold');}
  label.textContent=t;
  timeG.appendChild(label);
});
</script>
</body>
</html>
